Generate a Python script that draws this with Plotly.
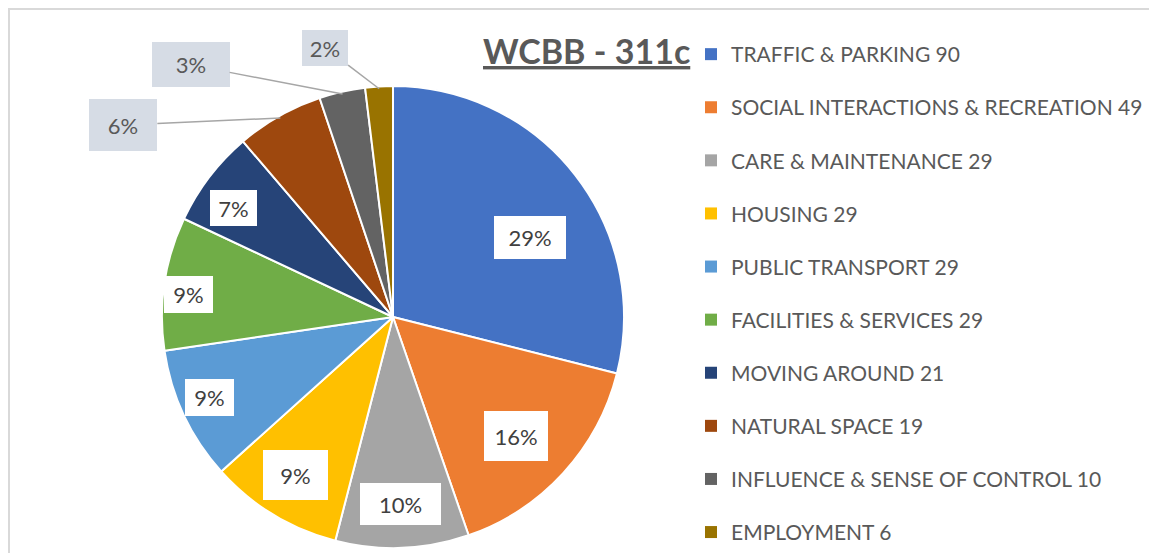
import math
import plotly.graph_objects as go

# ---- data ----
categories = [
    "TRAFFIC & PARKING", "SOCIAL INTERACTIONS & RECREATION", "CARE & MAINTENANCE",
    "HOUSING", "PUBLIC TRANSPORT", "FACILITIES & SERVICES", "MOVING AROUND",
    "NATURAL SPACE", "INFLUENCE & SENSE OF CONTROL", "EMPLOYMENT",
]
counts = [90, 49, 29, 29, 29, 29, 21, 19, 10, 6]
pct_labels = ["29%", "16%", "10%", "9%", "9%", "9%", "7%", "6%", "3%", "2%"]
title_text = "WCBB - 311c"

# ---- style ----
colors = ["#4472C4", "#ED7D31", "#A5A5A5", "#FFC000", "#5B9BD5",
          "#70AD47", "#264478", "#9E480E", "#636363", "#997300"]
OFF = 8                              # page body margin
W, H = 1157 - OFF, 553 - OFF         # figure size
CX, CY, R = 393, 317, 231            # pie centre / radius (page pixels)
FONT = "Lato"
TXT = "#595959"
# inside data labels: radial fraction, angular nudge (deg), box size
inside_frac = [0.685, 0.74, 0.81, 0.805, 0.868, 0.89, 0.837]
inside_nudge = [7.7, 1.6, 0.0, 0.3, 1.6, -2.0, -3.0]
inside_box = [(72, 43), (64, 50), (81, 42), (65, 50), (49, 37), (49, 37), (47, 36)]
# outside data labels: box offset from slice edge (px), box size
outside_off = [(-157, 7), (-152, -29), (-54, -41)]
outside_box = [(68, 52), (78, 45), (46, 36)]


def px_x(p):
    return (p - OFF) / W


def px_y(p):
    return 1 - (p - OFF) / H


fig = go.Figure()
fig.add_trace(go.Pie(
    labels=categories, values=counts, sort=False, direction="clockwise",
    rotation=0, textinfo="none", showlegend=False,
    marker=dict(colors=colors, line=dict(color="white", width=2)),
    domain=dict(x=[px_x(CX - R), px_x(CX + R)],
                y=[max(0, px_y(CY + R)), px_y(CY - R)]),
    hoverinfo="label+value+percent",
))

for name, v, c in zip(categories, counts, colors):
    fig.add_trace(go.Scatter(
        x=[None], y=[None], mode="markers", name=f"{name} {v}",
        legendgroup=name, marker=dict(symbol="square", size=10, color=c),
    ))

total = sum(counts)
annotations = []
cum = 0
for i, v in enumerate(counts):
    mid = (cum + v / 2) / total * 2 * math.pi
    cum += v
    if i < len(inside_frac):
        a = mid + math.radians(inside_nudge[i])
        f = inside_frac[i]
        bw, bh = inside_box[i]
        annotations.append(dict(
            x=px_x(CX + R * f * math.sin(a)), y=px_y(CY - R * f * math.cos(a)),
            xref="paper", yref="paper", xanchor="center", yanchor="middle",
            text=pct_labels[i], showarrow=False, width=bw, height=bh,
            borderpad=0, borderwidth=0,
            font=dict(family=FONT, size=22, color="#404040"),
            bgcolor="white",
        ))
    else:
        k = i - len(inside_frac)
        dx, dy = outside_off[k]
        bw, bh = outside_box[k]
        annotations.append(dict(
            x=px_x(CX + R * 0.99 * math.sin(mid)),
            y=px_y(CY - R * 0.99 * math.cos(mid)),
            xref="paper", yref="paper", xanchor="center", yanchor="middle",
            ax=dx, ay=dy, axref="pixel", ayref="pixel",
            text=pct_labels[i], showarrow=True, arrowhead=0,
            arrowcolor="#A6A6A6", arrowwidth=1.5,
            width=bw, height=bh, borderpad=0, borderwidth=0,
            font=dict(family=FONT, size=22, color=TXT),
            bgcolor="#D6DCE5",
        ))

annotations.append(dict(
    x=px_x(586), y=px_y(50), xref="paper", yref="paper",
    xanchor="center", yanchor="middle",
    text=f"<b><u>{title_text}</u></b>", showarrow=False,
    font=dict(family=FONT, size=34, color=TXT),
))

fig.update_layout(
    width=W, height=H, margin=dict(l=0, r=0, t=0, b=0),
    paper_bgcolor="white", plot_bgcolor="white",
    xaxis=dict(visible=False), yaxis=dict(visible=False),
    annotations=annotations,
    legend=dict(
        x=(731 - 40 - OFF) / W, xanchor="left", y=px_y(47), yanchor="top",
        font=dict(family=FONT, size=21, color=TXT),
        tracegroupgap=22.8, itemsizing="constant", bgcolor="rgba(0,0,0,0)",
    ),
    shapes=[
        dict(type="line", xref="paper", yref="paper",
             x0=0, x1=1, y0=1 - 1 / H, y1=1 - 1 / H,
             line=dict(color="#D9D9D9", width=2)),
        dict(type="line", xref="paper", yref="paper",
             x0=1 / W, x1=1 / W, y0=0, y1=1,
             line=dict(color="#D9D9D9", width=2)),
    ],
)

fig.write_html("out.html")
